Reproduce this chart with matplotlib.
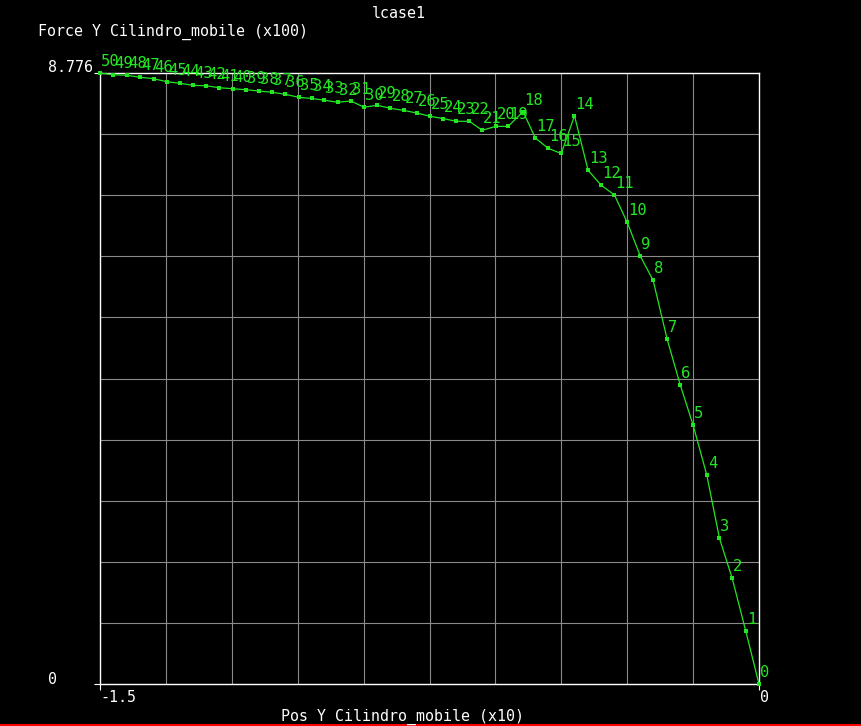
import matplotlib
matplotlib.use("Agg")
import matplotlib.pyplot as plt
from matplotlib.lines import Line2D
import matplotlib.transforms as mtransforms

# ---- data ----
step_ids = list(range(51))
pos_y = [0.0, -0.030, -0.061, -0.090, -0.119, -0.150, -0.179, -0.209, -0.241, -0.270,
         -0.300, -0.329, -0.359, -0.389, -0.420, -0.450, -0.480, -0.509, -0.537, -0.571,
         -0.599, -0.630, -0.659, -0.689, -0.719, -0.749, -0.779, -0.809, -0.839, -0.869,
         -0.899, -0.929, -0.959, -0.989, -1.018, -1.048, -1.078, -1.108, -1.138, -1.168,
         -1.198, -1.229, -1.259, -1.288, -1.318, -1.348, -1.378, -1.408, -1.439, -1.470,
         -1.500]
force_y = [0.000, 0.757, 1.518, 2.093, 3.006, 3.720, 4.290, 4.951, 5.798, 6.143,
           6.631, 7.024, 7.163, 7.378, 8.163, 7.620, 7.694, 7.842, 8.220, 8.010,
           8.010, 7.953, 8.082, 8.082, 8.122, 8.154, 8.201, 8.240, 8.269, 8.312,
           8.285, 8.374, 8.356, 8.385, 8.410, 8.427, 8.470, 8.499, 8.517, 8.536,
           8.550, 8.565, 8.593, 8.599, 8.628, 8.651, 8.694, 8.714, 8.743, 8.751,
           8.776]
x_ticks = [-1.5, 0.0]
x_tick_labels = ["-1.5", "0"]
y_ticks = [0.0, 8.776]
y_tick_labels = ["0", "8.776"]
title = "lcase1"
y_title = "Force Y Cilindro_mobile (x100)"
x_title = "Pos Y Cilindro_mobile (x10)"

W, H = 861, 726
fig = plt.figure(figsize=(W / 100, H / 100), dpi=100, facecolor="black")

def fx(px):
    return px / W

def fy(py):
    return 1 - py / H

left, right, top, bottom = 100, 759, 73, 684
ax = fig.add_axes([fx(left), fy(bottom), (right - left) / W, (bottom - top) / H])
ax.set_facecolor("black")
ax.set_xlim(-1.5, 0.0)
ax.set_ylim(0.0, 8.776)

mono = "DejaVu Sans Mono"
fs = 10.8
fs_pts = 11.2
green = "#22e622"

# grid
ngrid = 10
ax.set_xticks([-1.5 + 1.5 * i / ngrid for i in range(ngrid + 1)], minor=True)
ax.set_yticks([8.776 * i / ngrid for i in range(ngrid + 1)], minor=True)
ax.grid(True, which="minor", color="#8a8a8a", linewidth=0.8)
ax.tick_params(which="minor", length=0)
ax.set_xticks(x_ticks)
ax.set_yticks(y_ticks)
ax.set_xticklabels([])
ax.set_yticklabels([])
ax.tick_params(which="major", length=4, color="white", width=0.8, direction="out")
for s in ax.spines.values():
    s.set_color("white")
    s.set_linewidth(1.0)
ax.set_axisbelow(True)

# data line
ax.plot(pos_y, force_y, color=green, linewidth=0.9, marker="s", markersize=2.6,
        markeredgewidth=0, zorder=5, clip_on=False)
for i, (x, y) in enumerate(zip(pos_y, force_y)):
    ax.annotate(str(step_ids[i]), (x, y), xytext=(1, 7), textcoords="offset pixels",
                ha="left", va="baseline", color=green, fontsize=fs_pts, family=mono,
                annotation_clip=False, zorder=6)

# tick labels
ytr = mtransforms.blended_transform_factory(ax.transAxes, ax.transData)
for v, lab in zip(y_ticks, y_tick_labels):
    t = mtransforms.offset_copy(ytr, fig=fig, x=0, y=0.05, units="inches")
    ax.text((48 - left) / (right - left), v, lab, transform=t, ha="left",
            va="center", color="white", fontsize=fs, family=mono)
xtr = mtransforms.blended_transform_factory(ax.transData, ax.transAxes)
for v, lab in zip(x_ticks, x_tick_labels):
    t = mtransforms.offset_copy(xtr, fig=fig, x=0.0 if v < -1 else 0.01, y=-0.135, units="inches")
    ax.text(v, 0, lab, transform=t, ha="left", va="center", color="white",
            fontsize=fs, family=mono)

# titles
fig.text(fx(398.5), fy(13), title, ha="center", va="center", color="white",
         fontsize=fs, family=mono)
fig.text(fx(38), fy(32), y_title, ha="left", va="center", color="white",
         fontsize=fs, family=mono)
fig.text(fx(281), fy(717), x_title, ha="left", va="center", color="white",
         fontsize=fs, family=mono)

# red line at the bottom edge
fig.add_artist(Line2D([0, 1], [fy(725), fy(725)], transform=fig.transFigure,
                      color="#ff0000", linewidth=2.2))

fig.savefig("out.png", dpi=100, facecolor="black")
